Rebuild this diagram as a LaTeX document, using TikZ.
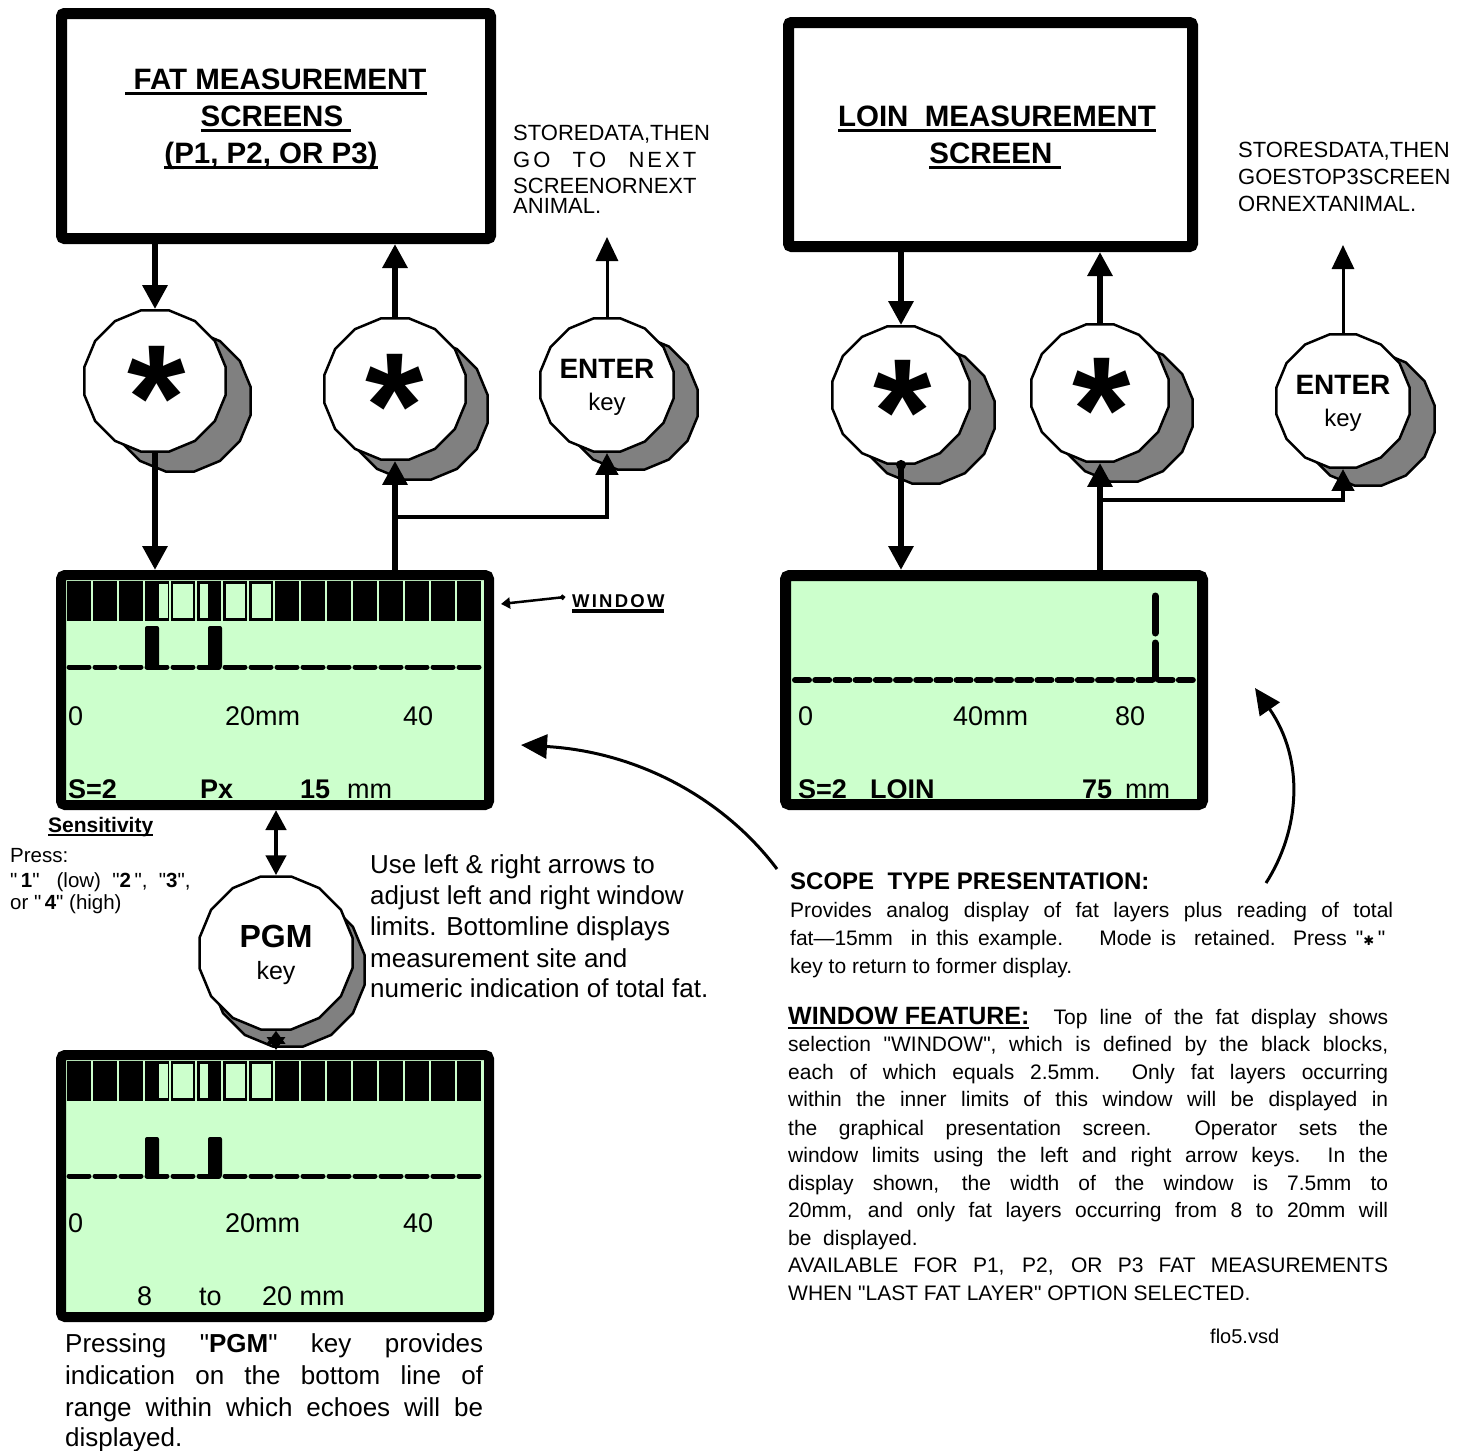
\documentclass[tikz,border=0pt]{standalone}
\usepackage{fontspec}
\setmainfont{Liberation Sans}
\newfontfamily\dejavu{DejaVu Sans}
\usetikzlibrary{arrows.meta,shapes.geometric}
\definecolor{lcd}{HTML}{CCFFCC}
\definecolor{shade}{HTML}{808080}
\newsavebox\ulbox
\newcommand\myul[3]{\sbox\ulbox{#3}\rlap{\rule[#1]{\wd\ulbox}{#2}}\usebox\ulbox}
\newcommand\fs[1]{\fontsize{#1}{#1}\selectfont}
\newcommand\jline[2]{\makebox[#1][s]{#2}}
\newcommand\dq{\XeTeXglyph\XeTeXcharglyph"22\relax}
\newcommand\keypair[6]{%
  \node[keyshadow, minimum size=#4pt] (#1-sh) at (#5,#6) {};
  \node[keybody, minimum size=#4pt] (#1) at (#2,#3) {};}
\newcommand\winrow[1]{%
  \foreach \i in {0,...,15}{\fill ({66.6+26*\i},#1) rectangle ({91.4+26*\i},#1+40);}
  \fill[lcd] (158.5,#1+3) rectangle (168,#1+37);
  \fill[lcd] (173,#1+3) rectangle (193,#1+37);
  \fill[lcd] (200,#1+3) rectangle (208,#1+37);
  \fill[lcd] (226,#1+3) rectangle (245,#1+37);
  \fill[lcd] (252,#1+3) rectangle (271,#1+37);}
\newcommand\pulses[2]{%
  \fill[rounded corners=2pt] (145,#2) -- (145,#1) -- (159,#1) -- (159,#2) -- cycle;
  \fill[rounded corners=2pt] (208,#2) -- (208,#1) -- (222,#1) -- (222,#2) -- cycle;}
\newcommand\dashbase[1]{%
  \foreach \i in {0,...,15}{\draw[line width=5pt, line cap=round] ({69+26*\i},#1) -- ({89+26*\i},#1);}}
\begin{document}
\begin{tikzpicture}[x=1pt,y=-1pt,
  every node/.style={inner sep=0pt},
  txt/.style={anchor=base west},
  ctxt/.style={anchor=base},
  tbox/.style={draw, line width=11pt, rounded corners=3pt},
  lcdbox/.style={draw, line width=10pt, fill=lcd, rounded corners=4pt},
  keybody/.style={regular polygon, regular polygon sides=16, draw, line width=2.5pt, fill=white},
  keyshadow/.style={regular polygon, regular polygon sides=16, draw, line width=2.5pt, fill=shade},
  conn/.style={line width=6pt, -{Triangle[length=24pt,width=24pt]}},
  brconn/.style={line width=4.5pt, -{Triangle[length=22pt,width=22pt]}},
  thinconn/.style={line width=3pt, -{Triangle[length=24pt,width=22pt]}},
  dbl/.style={line width=4.5pt, {Triangle[length=20pt,width=20pt]}-{Triangle[length=20pt,width=20pt]}},
  dblshort/.style={line width=4.5pt, {Triangle[length=13pt,width=18pt]}-{Triangle[length=13pt,width=18pt]}},
  curvearr/.style={line width=3pt, -{Triangle[length=26pt,width=24pt]}},
  startxt/.style={anchor=base, font=\fs{150}\bfseries},
]
\useasboundingbox (0,0) rectangle (1473,1451);
\fill[white] (0,0) rectangle (1473,1451);

% ---------- title boxes
\node[tbox, minimum width=429pt, minimum height=225pt] (fatbox) at (276,126) {};
\node[ctxt, font=\fs{29.5}\bfseries] (fat1) at (276,89) {\myul{-0.2em}{0.09em}{\ FAT MEASUREMENT}};
\node[ctxt, font=\fs{29.5}\bfseries] (fat2) at (276,126) {\myul{-0.2em}{0.09em}{SCREENS\ }};
\node[ctxt, font=\fs{29.5}\bfseries] (fat3) at (271,163) {\myul{-0.2em}{0.09em}{(P1, P2, OR P3)}};

\node[tbox, minimum width=404pt, minimum height=224pt] (loinbox) at (990.5,134.5) {};
\node[ctxt, font=\fs{29.5}\bfseries] (loin1) at (997,126) {\myul{-0.2em}{0.09em}{LOIN\ \ MEASUREMENT}};
\node[ctxt, font=\fs{29.5}\bfseries] (loin2) at (995,163) {\myul{-0.2em}{0.09em}{SCREEN\ }};

% ---------- keys
\keypair{lstar}{155}{381}{144}{180}{401}
\keypair{mstar}{395}{389}{144}{417}{409}
\keypair{lenter}{607}{385}{136}{631}{403}
\keypair{rstar1}{901}{395}{140}{926}{415}
\keypair{rstar2}{1100}{393}{140}{1124}{413}
\keypair{renter}{1343}{401}{136}{1368}{419}
\keypair{pgm}{276}{953}{156}{288}{970}

\node[startxt] (lstar-t) at (157,449) {*};
\node[startxt] (mstar-t) at (395,457) {*};
\node[startxt] (rstar1-t) at (903,463) {*};
\node[startxt] (rstar2-t) at (1102,461) {*};
\node[ctxt, font=\fs{28}\bfseries] (lenter-t) at (607,378) {ENTER};
\node[ctxt, font=\fs{24}] (lenter-k) at (607,410) {key};
\node[ctxt, font=\fs{28}\bfseries] (renter-t) at (1343,394) {ENTER};
\node[ctxt, font=\fs{24}] (renter-k) at (1343,426) {key};
\node[ctxt, font=\fs{32}\bfseries] (pgm-t) at (276,947) {PGM};
\node[ctxt, font=\fs{25}] (pgm-k) at (276,979) {key};

% ---------- displays
\node[lcdbox, minimum width=428pt, minimum height=230pt] (fatdisp) at (275,690) {};
\winrow{581}
\pulses{626}{668}
\dashbase{667}
\node[txt, font=\fs{27}] (f0) at (68,725) {0};
\node[txt, font=\fs{27}] (f20) at (225,725) {20mm};
\node[txt, font=\fs{27}] (f40) at (403,725) {40};
\node[txt, font=\fs{27}\bfseries] (fs2) at (68,798) {S=2};
\node[txt, font=\fs{27}\bfseries] (fpx) at (200,798) {Px};
\node[txt, font=\fs{27}\bfseries] (f15) at (300,798) {15};
\node[txt, font=\fs{27}] (fmm) at (347,798) {mm};

\node[lcdbox, line width=11pt, minimum width=417pt, minimum height=229pt] (loindisp) at (994,690) {};
\foreach \i in {0,...,19}{\draw[line width=6pt, line cap=round] ({795+20.2*\i},680) -- ({809+20.2*\i},680);}
\draw[line width=7pt, line cap=round] (1155,596) -- (1155,633);
\draw[line width=7pt, line cap=round] (1155,643) -- (1155,678);
\node[txt, font=\fs{27}] (l0) at (798,725) {0};
\node[txt, font=\fs{27}] (l40) at (953,725) {40mm};
\node[txt, font=\fs{27}] (l80) at (1115,725) {80};
\node[txt, font=\fs{27}\bfseries] (ls2) at (798,798) {S=2};
\node[txt, font=\fs{27}\bfseries] (lloin) at (870,798) {LOIN};
\node[txt, font=\fs{27}\bfseries] (l75) at (1082,798) {75};
\node[txt, font=\fs{27}] (lmm) at (1125,798) {mm};

\node[lcdbox, minimum width=428pt, minimum height=262pt] (pgmdisp) at (275,1186) {};
\winrow{1061}
\pulses{1137}{1177}
\dashbase{1176}
\node[txt, font=\fs{27}] (p0) at (68,1232) {0};
\node[txt, font=\fs{27}] (p20) at (225,1232) {20mm};
\node[txt, font=\fs{27}] (p40) at (403,1232) {40};
\node[txt, font=\fs{27}] (p8) at (137,1305) {8};
\node[txt, font=\fs{27}] (pto) at (199,1305) {to};
\node[txt, font=\fs{27}] (p20b) at (262,1305) {20 mm};

% ---------- connectors
\draw[conn] (lstar |- fatbox.south) -- (lstar.north);
\draw[conn] (lstar.south) -- (lstar |- fatdisp.north);
\draw[conn] (mstar.north) -- (mstar |- fatbox.south);
\draw[conn] (mstar |- fatdisp.north) -- (mstar.south);
\coordinate (lbr) at (395,517);
\draw[brconn] (lbr) -| (lenter.south);
\coordinate (lup) at (607,237);
\draw[thinconn] (lenter.north) -- (lup);

\draw[conn] (rstar1 |- loinbox.south) -- (rstar1.north);
\fill (rstar1.south) circle (5pt);
\draw[conn] (rstar1.south) -- (rstar1 |- loindisp.north);
\draw[conn] (rstar2.north) -- (rstar2 |- loinbox.south);
\draw[conn] (rstar2 |- loindisp.north) -- (rstar2.south);
\coordinate (rbr) at (1100,500);
\draw[brconn] (rbr) -| (renter.south);
\coordinate (rup) at (1343,245);
\draw[thinconn] (renter.north) -- (rup);

\draw[dbl] (pgm |- fatdisp.south) -- (pgm.north);
\draw[dblshort] (pgm.south) -- (pgm |- pgmdisp.north);

% ---------- WINDOW label
\node[txt, font=\fs{18.5}\bfseries\addfontfeature{LetterSpace=12}] (wlabel) at (572,607) {\myul{-0.3em}{0.17em}{WINDOW}};
\coordinate (wtip) at (501,604);
\coordinate (wstart) at (565,597);
\draw[line width=2.5pt, {Circle[length=5pt]}-{Triangle[length=9pt,width=11pt]}] (wstart) -- (wtip);

% ---------- curved arrows
\coordinate (c1s) at (777,869);
\coordinate (c1e) at (521,745);
\draw[curvearr] (c1s) .. controls (725,800) and (640,752) .. (c1e);
\coordinate (c2s) at (1266,883);
\coordinate (c2e) at (1255,688);
\draw[curvearr] (c2s) .. controls (1300,830) and (1305,760) .. (c2e);

% ---------- texts
\node[txt, font=\fs{22}] (sd1) at (513,140) {STOREDATA,THEN};
\node[txt, font=\fs{22}] (sd2) at (513,167) {\hbox to 183pt{G\kern3pt O\hfill T\kern3pt O\hfill N\kern3pt E\kern3pt X\kern3pt T}};
\node[txt, font=\fs{22}] (sd3) at (513,193) {SCREENORNEXT};
\node[txt, font=\fs{22}] (sd4) at (513,213) {ANIMAL.};

\node[txt, font=\fs{22}] (rs1) at (1238,157) {STORESDATA,THEN};
\node[txt, font=\fs{22}] (rs2) at (1238,184) {GOESTOP3SCREEN};
\node[txt, font=\fs{22}] (rs3) at (1238,211) {ORNEXTANIMAL.};

\node[txt, font=\fs{21}\bfseries] (sens) at (48,832) {\myul{-0.2em}{0.1em}{Sensitivity}};
\node[txt, font=\fs{20.5}] (press1) at (10,862) {Press:};
\node[txt, font=\fs{20.5}] (press2) at (10,887) {\dq\,\textbf{1}\dq\ \ \ (low)\ \ \dq\textbf{2}\,\dq,\ \ \dq\textbf{3}\dq,};
\node[txt, font=\fs{20.5}] (press3) at (10,909) {or \dq\,\textbf{4}\dq\ (high)};

\node[txt, font=\fs{26}] (use1) at (370,873) {Use left \& right arrows to};
\node[txt, font=\fs{26}] (use2) at (370,904) {adjust left and right window};
\node[txt, font=\fs{26}] (use3) at (370,935) {limits. Bottomline displays};
\node[txt, font=\fs{26}] (use4) at (370,967) {measurement site and};
\node[txt, font=\fs{26}] (use5) at (370,997) {numeric indication of total fat.};

\node[txt, font=\fs{26}] (pr1) at (65,1352) {\jline{418pt}{Pressing \dq\textbf{PGM}\dq\ key provides}};
\node[txt, font=\fs{26}] (pr2) at (65,1384) {\jline{418pt}{indication on the bottom line of}};
\node[txt, font=\fs{26}] (pr3) at (65,1416) {\jline{418pt}{range within which echoes will be}};
\node[txt, font=\fs{26}] (pr4) at (65,1446) {displayed.};

\node[txt, font=\fs{24}\bfseries] (scope) at (790,889) {SCOPE\ \ TYPE PRESENTATION:};
\node[txt, font=\fs{21}] (sc1) at (790,917) {\jline{603pt}{Provides analog display of fat layers plus reading of total}};
\node[txt, font=\fs{21}] (sc2) at (790,945) {\jline{595pt}{fat—15mm\ \ in this example.\ \ \ \ Mode is\ \ retained. Press \dq{\dejavu\fs{13}✱}\,\dq}};
\node[txt, font=\fs{21}] (sc3) at (790,973) {key to return to former display.};

\node[txt, font=\fs{21}] (wf1) at (788,1024) {\jline{600pt}{{\fs{25}\bfseries\myul{-0.2em}{0.1em}{WINDOW FEATURE:}}\ \ Top line of the fat display shows}};
\node[txt, font=\fs{21}] (wf2) at (788,1051) {\jline{600pt}{selection \dq WINDOW\dq, which is defined by the black blocks,}};
\node[txt, font=\fs{21}] (wf3) at (788,1079) {\jline{600pt}{each of which equals 2.5mm.\ \ Only fat layers occurring}};
\node[txt, font=\fs{21}] (wf4) at (788,1106) {\jline{600pt}{within the inner limits of this window will be displayed in}};
\node[txt, font=\fs{21}] (wf5) at (788,1135) {\jline{600pt}{the graphical presentation screen.\ \ Operator sets the}};
\node[txt, font=\fs{21}] (wf6) at (788,1162) {\jline{600pt}{window limits using the left and right arrow keys.\ \ In the}};
\node[txt, font=\fs{21}] (wf7) at (788,1190) {\jline{600pt}{display shown, the width of the window is 7.5mm to}};
\node[txt, font=\fs{21}] (wf8) at (788,1217) {\jline{600pt}{20mm, and only fat layers occurring from 8 to 20mm will}};
\node[txt, font=\fs{21}] (wf9) at (788,1245) {be\ \ displayed.};
\node[txt, font=\fs{21}] (wf10) at (788,1272) {\jline{600pt}{AVAILABLE FOR P1, P2, OR P3 FAT MEASUREMENTS}};
\node[txt, font=\fs{21}] (wf11) at (788,1300) {WHEN \dq LAST FAT LAYER\dq\ OPTION SELECTED.};

\node[txt, font=\fs{20}] (flo) at (1210,1343) {flo5.vsd};
\end{tikzpicture}
\end{document}
